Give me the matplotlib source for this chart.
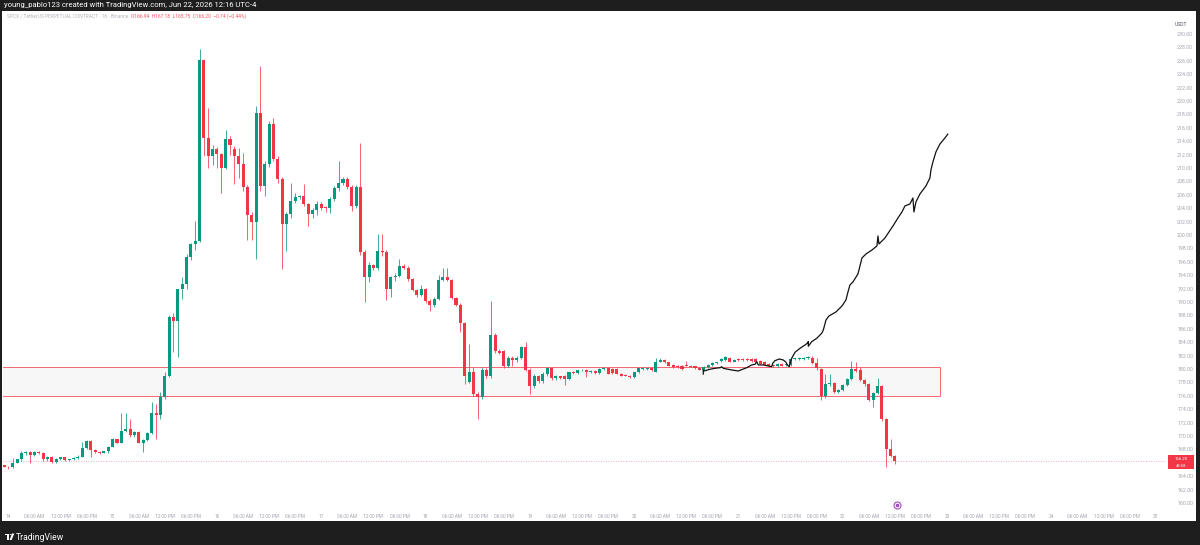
import matplotlib
matplotlib.use("Agg")
import matplotlib.pyplot as plt
import matplotlib.transforms as mtransforms
from matplotlib.patches import Rectangle, Circle, Polygon

plt.rcParams['font.family'] = ['Roboto', 'DejaVu Sans']

# SPCX/USDT perp, 1h bars. First bar opens Jun 13 23:00, last Jun 22 12:00
opens = [165.6, 165.35, 165.3, 166.0, 166.5, 167.4, 167.6, 167.15, 167.6, 167.45,
         166.5, 166.9, 166.15, 166.6, 166.8, 166.35, 166.5, 166.75, 166.9, 168.15,
         169.3, 167.9, 167.6, 167.5, 167.7, 168.4, 169.5, 169.0, 170.8, 171.0,
         170.1, 170.6, 169.0, 169.4, 170.5, 173.5, 173.2, 175.8, 179.0, 187.7,
         187.2, 191.9, 192.7, 196.7, 198.6, 199.1, 226.1, 214.5, 211.8, 212.9,
         212.1, 210.0, 214.4, 212.8, 211.8, 210.6, 207.1, 203.0, 201.9, 218.2,
         207.3, 210.6, 216.6, 211.3, 208.3, 201.6, 203.1, 205.1, 205.6, 205.8,
         204.6, 203.1, 203.7, 204.6, 204.1, 204.0, 205.3, 207.0, 207.8, 208.3,
         207.2, 204.3, 207.2, 197.4, 193.7, 195.5, 195.1, 197.6, 197.5, 191.9,
         193.7, 193.9, 195.4, 195.1, 193.4, 191.8, 191.1, 191.9, 190.2, 189.5,
         190.5, 193.3, 193.8, 193.3, 190.6, 189.6, 186.8, 178.1, 179.5, 176.2,
         175.8, 179.9, 178.9, 185.1, 182.7, 182.7, 180.5, 181.7, 181.3, 181.7,
         183.3, 179.9, 177.4, 178.9, 178.2, 179.3, 180.1, 178.6, 178.9, 178.9,
         178.5, 179.5, 179.4, 179.8, 179.9, 179.5, 179.65, 179.4, 180.0, 180.1,
         180.0, 180.0, 179.3, 179.1, 178.95, 178.85, 179.5, 180.05, 180.0, 180.1,
         179.6, 181.1, 181.4, 181.0, 180.6, 180.5, 180.5, 180.55, 180.5, 180.4,
         180.1, 179.9, 180.3, 180.65, 180.9, 181.2, 181.3, 181.7, 181.1, 181.55,
         181.55, 181.5, 181.5, 181.5, 181.2, 181.1, 180.8, 180.65, 180.4, 180.8,
         180.65, 180.65, 181.5, 181.5, 181.5, 181.6, 181.7, 180.9, 180.0, 175.9,
         177.8, 177.9, 176.6, 176.9, 177.6, 178.5, 180.0, 179.8, 178.3, 177.7,
         175.4, 176.4, 177.4, 172.5, 168.0, 166.94]
highs = [165.7, 165.5, 166.75, 166.6, 167.7, 167.8, 167.7, 167.7, 167.8, 167.6,
         167.0, 167.0, 166.7, 166.9, 166.9, 166.6, 166.9, 167.2, 169.1, 169.4,
         169.4, 168.0, 167.8, 167.8, 168.5, 169.7, 169.6, 173.4, 173.4, 172.6,
         170.8, 170.8, 169.5, 170.6, 175.1, 174.8, 176.5, 179.5, 188.0, 188.3,
         192.0, 193.8, 197.1, 198.8, 202.1, 227.7, 226.3, 219.0, 213.5, 213.2,
         212.3, 215.7, 214.7, 213.3, 213.0, 212.3, 207.5, 203.4, 219.3, 225.2,
         211.0, 217.0, 217.5, 211.8, 208.6, 203.5, 207.8, 206.3, 206.0, 207.6,
         204.8, 204.0, 205.0, 204.9, 204.4, 205.6, 207.3, 211.0, 208.6, 208.6,
         207.4, 207.5, 213.8, 197.8, 196.0, 195.7, 200.1, 200.2, 197.8, 193.9,
         194.4, 196.4, 195.6, 195.3, 193.6, 192.0, 192.6, 192.1, 190.4, 190.7,
         194.0, 195.1, 195.1, 193.5, 190.8, 189.8, 187.0, 183.8, 180.3, 176.5,
         180.3, 180.1, 190.1, 185.3, 183.0, 182.9, 181.9, 181.9, 181.9, 183.5,
         184.0, 180.1, 179.2, 179.1, 179.5, 180.3, 180.3, 179.1, 179.0, 179.1,
         179.6, 179.7, 179.9, 180.0, 180.0, 179.8, 179.8, 180.2, 180.3, 180.3,
         180.1, 180.2, 179.4, 179.2, 179.1, 179.6, 180.2, 180.3, 180.2, 180.2,
         181.6, 181.7, 181.5, 181.1, 180.7, 180.6, 180.6, 181.2, 180.6, 180.5,
         180.2, 180.4, 180.8, 181.0, 181.1, 181.6, 182.0, 181.8, 181.5, 181.7,
         181.6, 181.6, 181.6, 181.6, 181.3, 181.2, 180.9, 180.7, 180.9, 180.9,
         180.9, 181.6, 181.7, 181.8, 181.8, 182.0, 181.9, 181.6, 180.2, 179.3,
         179.3, 178.1, 177.0, 177.8, 178.7, 181.2, 181.0, 180.3, 178.5, 177.9,
         176.6, 178.6, 177.6, 172.7, 169.6, 167.18]
lows = [165.3, 165.1, 165.2, 165.9, 166.3, 167.2, 165.9, 167.0, 167.3, 166.2,
        166.3, 166.0, 166.0, 166.4, 166.2, 166.2, 166.4, 166.6, 166.8, 168.0,
        166.9, 167.4, 167.3, 167.4, 167.5, 168.3, 168.9, 168.9, 170.6, 169.9,
        169.8, 168.9, 167.6, 169.2, 170.3, 169.6, 172.6, 175.5, 178.8, 182.5,
        181.8, 190.5, 192.0, 196.2, 197.8, 198.9, 211.8, 210.0, 210.5, 210.0,
        206.3, 209.8, 212.0, 207.6, 208.5, 206.5, 199.3, 199.3, 196.4, 206.5,
        205.8, 210.2, 211.0, 207.8, 194.9, 197.6, 202.5, 204.8, 205.3, 204.4,
        201.4, 202.6, 203.0, 203.8, 203.4, 203.3, 205.0, 206.6, 207.5, 206.8,
        203.6, 204.0, 197.0, 190.0, 193.0, 194.8, 194.8, 196.8, 190.3, 190.8,
        193.1, 193.7, 194.9, 193.2, 191.6, 190.8, 190.9, 189.9, 188.6, 189.3,
        190.3, 193.1, 193.1, 190.4, 189.4, 185.5, 177.8, 177.9, 176.0, 172.6,
        175.5, 178.6, 178.7, 182.4, 182.2, 180.2, 180.3, 180.5, 181.0, 181.5,
        179.7, 176.3, 177.1, 177.9, 177.9, 179.0, 178.3, 178.4, 178.5, 177.6,
        178.4, 179.2, 179.3, 179.7, 178.8, 179.4, 179.3, 179.3, 179.9, 179.2,
        179.3, 179.2, 178.9, 178.9, 178.7, 178.7, 179.4, 179.9, 179.9, 179.7,
        179.5, 181.0, 180.9, 180.4, 180.2, 180.2, 179.9, 180.4, 180.3, 180.0,
        179.8, 179.8, 180.2, 180.5, 180.8, 181.1, 181.2, 181.0, 181.0, 181.2,
        181.2, 181.2, 181.1, 181.0, 180.7, 180.6, 180.3, 180.3, 180.3, 180.4,
        180.5, 180.5, 181.4, 181.4, 181.4, 181.5, 180.7, 179.9, 175.3, 175.7,
        177.5, 176.4, 176.4, 176.7, 177.4, 178.3, 179.5, 178.2, 177.5, 175.2,
        174.3, 176.2, 172.3, 165.4, 166.8, 165.75]
closes = [165.35, 165.3, 166.0, 166.5, 167.4, 167.6, 167.15, 167.6, 167.45, 166.5,
          166.9, 166.15, 166.6, 166.8, 166.35, 166.5, 166.75, 166.9, 168.15, 169.3,
          167.9, 167.6, 167.5, 167.7, 168.4, 169.5, 169.0, 170.8, 171.0, 170.1,
          170.6, 169.0, 169.4, 170.5, 173.5, 173.2, 175.8, 179.0, 187.7, 187.2,
          191.9, 192.7, 196.7, 198.6, 199.1, 226.1, 214.5, 211.8, 212.9, 212.1,
          210.0, 214.4, 213.5, 211.8, 210.6, 207.1, 203.0, 201.9, 218.2, 207.3,
          210.6, 216.6, 211.3, 208.3, 201.6, 203.1, 205.1, 205.6, 205.8, 204.6,
          203.1, 203.7, 204.6, 204.1, 204.0, 205.3, 207.0, 207.8, 208.3, 207.2,
          204.3, 207.2, 197.4, 193.7, 195.5, 195.1, 197.6, 197.5, 191.9, 193.7,
          193.9, 195.4, 195.1, 193.4, 191.8, 191.1, 191.9, 190.2, 189.5, 190.5,
          193.3, 193.8, 193.3, 190.6, 189.6, 186.8, 178.9, 179.5, 176.2, 175.8,
          179.9, 178.9, 185.1, 182.7, 182.4, 180.5, 181.7, 181.3, 181.7, 183.3,
          179.9, 177.4, 178.9, 178.2, 179.3, 180.1, 178.6, 178.9, 178.6, 178.5,
          179.5, 179.4, 179.8, 179.9, 179.5, 179.65, 179.4, 180.0, 180.1, 179.3,
          179.45, 179.3, 179.0, 178.95, 178.85, 179.5, 180.1, 180.15, 180.1, 179.8,
          181.1, 181.4, 181.0, 180.5, 180.3, 180.3, 180.0, 180.45, 180.35, 180.1,
          179.9, 180.3, 180.65, 180.9, 181.0, 181.5, 181.8, 181.1, 181.4, 181.3,
          181.3, 181.3, 181.2, 181.1, 180.8, 180.65, 180.4, 180.4, 180.8, 180.5,
          180.8, 181.5, 181.6, 181.65, 181.7, 181.8, 180.9, 180.1, 175.9, 177.8,
          177.9, 176.6, 176.9, 177.6, 178.5, 180.0, 179.7, 178.3, 177.7, 175.4,
          176.4, 177.4, 172.5, 168.0, 167.0, 166.2]

# bar open time in hours after Jun 14 00:00
hours = list(range(-1, len(closes) - 1))

day_labels = ['14', '15', '16', '17', '18', '19', '20', '21', '22', '23', '24', '25']
time_labels = ['06:00 AM', '12:00 PM', '06:00 PM']
price_ticks = list(range(160, 231, 2))

# support box drawn on the chart
zone_low, zone_high = 175.95, 180.3
zone_start, zone_end = -6, 214.4

# hand drawn "moon" line (hours, price)
sketch_h = [159.9, 159.9, 160.07, 161.45, 162.6, 163.75, 164.14, 164.51, 166.44, 167.96,
            168.51, 169.89, 171.04, 171.8, 172.19, 172.56, 173.71, 174.86, 175.64, 175.87,
            176.4, 177.39, 178.31, 178.94, 179.24, 179.7, 179.86, 180.25, 181.01, 182.16,
            183.31, 183.84, 184.07, 184.07, 184.85, 186.0, 187.15, 187.52, 188.13, 188.82,
            190.43, 191.81, 192.73, 193.19, 193.65, 194.34, 195.49, 195.95, 196.41, 197.33,
            198.71, 199.86, 200.09, 200.32, 201.7, 203.54, 204.69, 205.61, 206.3, 207.45,
            208.14, 208.37, 208.83, 209.75, 211.13, 212.05, 212.28, 212.74, 213.43, 214.35,
            215.5, 216.19]
sketch_p = [179.21, 179.85, 179.7, 179.96, 180.1, 180.19, 180.34, 180.1, 179.85, 179.7,
            179.85, 180.19, 180.6, 180.7, 181.09, 180.6, 180.6, 180.45, 180.34, 180.85,
            181.24, 181.49, 181.34, 181.0, 180.6, 180.34, 180.85, 181.6, 182.49, 183.09,
            183.58, 183.84, 184.1, 183.4, 184.07, 184.58, 185.33, 185.82, 187.31, 187.91,
            188.51, 189.4, 190.3, 191.49, 192.54, 192.99, 194.18, 195.37, 196.57, 197.16,
            197.76, 198.36, 199.85, 198.66, 199.55, 201.34, 202.54, 203.43, 204.33, 204.63,
            205.52, 203.43, 204.93, 206.12, 207.31, 208.51, 209.7, 210.9, 212.39, 213.58,
            214.48, 215.07]

event_hour = 204.5

GREEN = '#089981'
RED = '#f23645'
AXIS_TXT = '#a3a6af'

W, H = 1200, 545
fig = plt.figure(figsize=(W / 100, H / 100), dpi=100, facecolor='#1e1e1e')

# white chart panel inside the dark frame
fig.patches.append(Rectangle((2 / W, 1 - 521 / H), 1194 / W, 510 / H,
                             transform=fig.transFigure, facecolor='white',
                             edgecolor='none', zorder=-1))

ax = fig.add_axes([3 / W, 1 - 507 / H, 1163 / W, 496 / H])
ax.set_facecolor('none')
ax.set_xlim(-1.23, 266.37)
ax.set_ylim(159.40, 233.43)
for s in ax.spines.values():
    s.set_visible(False)

# zone box
ax.add_patch(Rectangle((zone_start, zone_low), zone_end - zone_start, zone_high - zone_low,
                       facecolor='#f7f7f8', edgecolor=(0.95, 0.21, 0.27, 0.75),
                       linewidth=0.7, zorder=1))

# last price line
ax.axhline(closes[-1], color=RED, linewidth=0.6, linestyle=(0, (1, 2)), alpha=0.55, zorder=1)

# candles
colors = [GREEN if c >= o else RED for o, c in zip(opens, closes)]
bottoms = [min(o, c) for o, c in zip(opens, closes)]
heights = [max(abs(c - o), 0.12) for o, c in zip(opens, closes)]
ax.vlines(hours, lows, highs, colors=colors, linewidth=0.55, zorder=3)
ax.bar(hours, heights, bottom=bottoms, width=0.7, color=colors, linewidth=0, zorder=4)

# sketch
ax.plot(sketch_h, sketch_p, color='#111111', linewidth=0.9, zorder=6,
        solid_capstyle='round', solid_joinstyle='round')

# price scale
ax.yaxis.tick_right()
ax.set_yticks(price_ticks)
ax.set_yticklabels([f'{t:.2f}' for t in price_ticks])
ax.tick_params(axis='y', length=0, pad=8, labelsize=3.8, labelcolor=AXIS_TXT)

# time scale
xt, xl = [], []
for d, lab in enumerate(day_labels):
    xt.append(24 * d)
    xl.append(lab)
    if d < len(day_labels) - 1:
        for k, tl in enumerate(time_labels):
            xt.append(24 * d + 6 * (k + 1))
            xl.append(tl)
ax.set_xticks(xt)
ax.set_xticklabels(xl)
ax.tick_params(axis='x', length=0, pad=5, labelsize=3.4, labelcolor=AXIS_TXT)

# last price tag on the price scale
tr = mtransforms.blended_transform_factory(fig.transFigure, ax.transData)
ax.add_patch(Rectangle((1168 / W, closes[-1] - 1.13), 26 / W, 2.09, transform=tr,
                       facecolor=RED, edgecolor='none', zorder=8, clip_on=False))
ax.text(1181 / W, closes[-1] + 0.42, f'{closes[-1]:.2f}', transform=tr, ha='center',
        va='center', color='white', fontsize=3.2, zorder=9, clip_on=False)
ax.text(1181 / W, closes[-1] - 0.64, '43:58', transform=tr, ha='center',
        va='center', color='white', fontsize=3.0, zorder=9, clip_on=False)

# event marker on the time scale
te = mtransforms.blended_transform_factory(ax.transData, ax.transAxes)
ax.plot([event_hour], [0.005], marker='o', markersize=5, markerfacecolor='white',
        markeredgecolor='#a04bc4', markeredgewidth=0.8, transform=te, clip_on=False, zorder=9)
ax.plot([event_hour], [0.005], marker='o', markersize=1.6, color='#a04bc4',
        transform=te, clip_on=False, zorder=10)

# header texts
header = fig.text(4 / W, 1 - 5.5 / H,
                  'young_pablo123 created with TradingView.com, Jun 22, 2026 12:16 UTC-4',
                  color='white', fontsize=4.6, va='center', ha='left')
legend_name = fig.text(7 / W, 1 - 16.5 / H,
                       'SPCX / TetherUS PERPETUAL CONTRACT \u00b7 1h \u00b7 Binance',
                       color='#b2b5be', fontsize=3.7, va='center', ha='left')
chg = closes[-1] - opens[-1]
pct = chg / opens[-1] * 100
ohlc = (f'O{opens[-1]:.2f}  H{highs[-1]:.2f}  L{lows[-1]:.2f}  C{closes[-1]:.2f}  '
        f'{chg:.2f} ({pct:.2f}%)').replace('-', '\u2212')
legend_vals = fig.text(131 / W, 1 - 16.5 / H, ohlc, color=RED, alpha=0.85, fontsize=3.7,
                       va='center', ha='left')
fig.text(1181 / W, 1 - 25 / H, 'USDT', color='#50535e', fontsize=3.6, va='center', ha='center')

# size the header lines to their width in the screenshot
fig.canvas.draw()
rend = fig.canvas.get_renderer()
for t, wpx in [(header, 252), (legend_name, 120), (legend_vals, 116)]:
    t.set_fontsize(t.get_fontsize() * wpx / t.get_window_extent(rend).width)

# TradingView logo in the bottom band
ft = fig.transFigure
def px(x, y):
    return (x / W, 1 - y / H)
fig.patches.append(Polygon([px(4.6, 533.5), px(9.2, 533.5), px(9.2, 540), px(7.2, 540),
                            px(7.2, 535.3), px(4.6, 535.3)], closed=True, transform=ft,
                           facecolor='white', edgecolor='none'))
fig.patches.append(Circle(px(10.6, 534.6), 1.0 / W, transform=ft, facecolor='white', edgecolor='none'))
fig.patches.append(Polygon([px(12.0, 533.5), px(14.3, 533.5), px(11.6, 540), px(9.6, 540)],
                           closed=True, transform=ft, facecolor='white', edgecolor='none'))
fig.text(16 / W, 1 - 537 / H, 'TradingView', color='white', fontsize=6.2, va='center', ha='left')

fig.savefig('out.png', dpi=100, facecolor=fig.get_facecolor())
